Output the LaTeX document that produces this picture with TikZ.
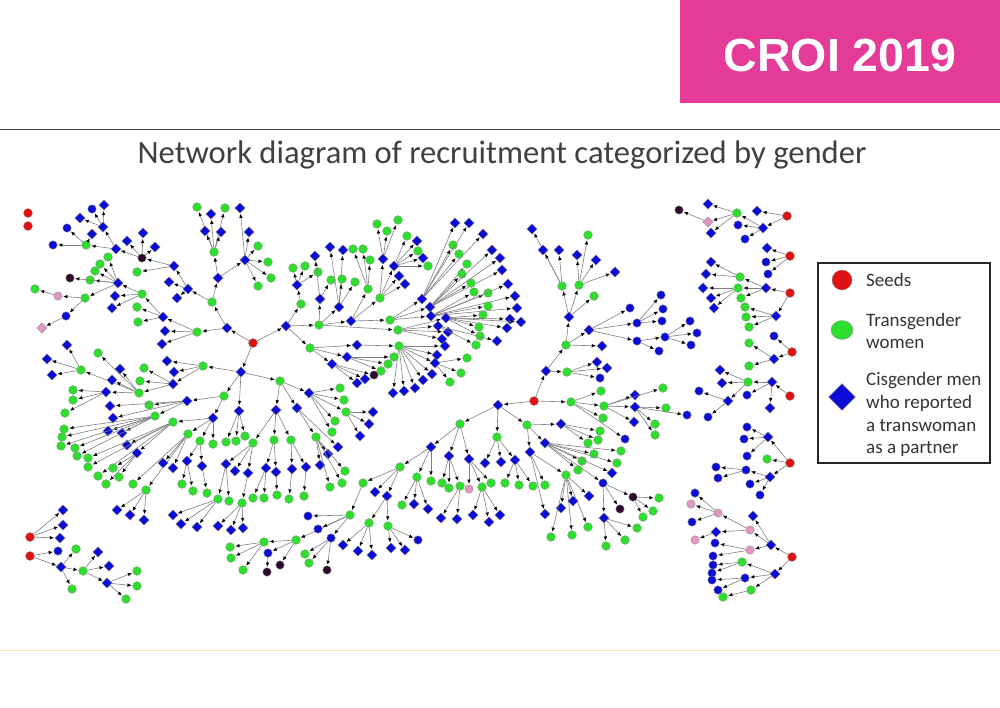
\documentclass[tikz,border=0pt]{standalone}
\usepackage{fontspec}
\usetikzlibrary{shapes.geometric,arrows.meta}
\newfontfamily\titlefont{Carlito}
\newfontfamily\headfont{Liberation Sans}
\definecolor{cgreen}{RGB}{45,222,45}
\definecolor{cblue}{RGB}{12,12,215}
\definecolor{cred}{RGB}{222,18,18}
\definecolor{cpink}{RGB}{226,150,192}
\definecolor{cdark}{RGB}{45,10,45}
\definecolor{croi}{RGB}{228,58,152}
\tikzset{
 nd/.style={inner sep=0pt, draw=black!45, line width=0.3pt},
 gn/.style={nd, circle, fill=cgreen, minimum size=8.8pt},
 bd/.style={nd, diamond, fill=cblue, minimum size=10.5pt},
 bc/.style={nd, circle, fill=cblue, minimum size=8.5pt},
 rd/.style={nd, circle, fill=cred, minimum size=9pt},
 pk/.style={nd, circle, fill=cpink, minimum size=8.5pt},
 pd/.style={nd, diamond, fill=cpink, minimum size=10.5pt},
 dk/.style={nd, circle, fill=cdark, minimum size=8.5pt},
 edge/.style={draw=black!50, line width=0.6pt, -{Latex[length=4.2pt,width=3.6pt,color=black]}, shorten >=0.8pt},
 legtext/.style={font=\titlefont\fontsize{19}{22}\selectfont, text=black!80, anchor=base west, inner sep=0pt},
}
\newcount\vc
\newcommand\mknode[5]{\node[#4] (#1) at (#2,#3) {}; \draw[edge] (#5) -- (#1);}
\newcommand\kids[2]{\foreach \nm/\px/\py/\st in {#2}{\edef\tmp{\noexpand\mknode{\nm}{\px}{\py}{\st}{#1}}\tmp}}
\newcommand\leaves[2]{\foreach \px/\py/\st in {#2}{\global\advance\vc by 1 \edef\tmp{\noexpand\mknode{v\the\vc}{\px}{\py}{\st}{#1}}\tmp}}
\begin{document}
\begin{tikzpicture}[x=1pt,y=-1pt]
\useasboundingbox (0,0) rectangle (1000,707);
\fill[white] (0,0) rectangle (1000,707);
% header
\fill[croi] (680,0) rectangle (1000,103);
\node[text=white, font=\headfont\bfseries\fontsize{46.5}{50}\selectfont, inner sep=0pt] (hdr) at (840,55) {CROI 2019};
\draw[black!75, line width=0.8pt] (0,129) -- (1000,129);
\draw[color={rgb,255:red,250;green,228;blue,175}, line width=0.8pt] (0,650) -- (1000,650);
\node[font=\titlefont\fontsize{32.6}{34}\selectfont, text=black!75, inner sep=0pt] (ttl) at (502,155) {Network diagram of recruitment categorized by gender};
% legend
\draw[line width=1.2pt, black!85] (818,263) rectangle (990,463);
\node[rd, minimum size=20pt] (k1) at (842,280) {};
\node[gn, minimum width=22pt, minimum height=19pt, ellipse] (k2) at (842,330) {};
\node[bd, minimum size=27pt] (k3) at (842,397) {};
\node[legtext] (lg1) at (866,286) {Seeds};
\node[legtext] (lg2) at (866,326) {Transgender};
\node[legtext] (lg3) at (866,348) {women};
\node[legtext] (lg4) at (866,385) {Cisgender men};
\node[legtext] (lg5) at (866,408) {who reported};
\node[legtext] (lg6) at (866,431) {a transwoman};
\node[legtext] (lg7) at (866,453) {as a partner};
% isolated seeds
\node[rd] (S1) at (28,213) {};
\node[rd] (S2) at (28,226) {};
% ===== Tree A =====
\node[rd] (A) at (253,343) {};
\kids{A}{a1/227/328/bd, a2/286/326/bd, a3/241/372/bd}
\kids{a1}{a11/212/302/gn, a12/197/332/gn}
\kids{a11}{h1/188/289/bd, t1/218/278/bd}
\kids{h1}{L1/174/266/bd}
\leaves{h1}{169/282/bd, 177/298/bd}
\kids{a12}{L2/163/317/bd}
\leaves{a12}{165/331/bd, 162/344/bd}
\kids{L1}{L3/142/258/dk}
\leaves{L1}{137/272/gn}
\kids{L3}{L4/116/249/bd}
\leaves{L3}{127/241/bd, 143/233/bd, 155/247/bd}
\kids{L4}{L5/86/245/gn, L6/103/227/bd}
\leaves{L5}{53/245/bc, 67/228/bc, 92/234/bd}
\leaves{L6}{80/218/bd, 92/209/bc, 104/205/bd}
\kids{L2}{L7/142/294/gn}
\leaves{L2}{137/307/gn, 138/322/gn}
\kids{L7}{L8/118/283/bd}
\leaves{L7}{115/296/bd, 112/308/bd}
\kids{L8}{L9/85/298/gn}
\leaves{L8}{108/257/gn, 100/264/gn, 95/271/gn, 90/280/gn, 70/278/dk}
\kids{L9}{L10/58/296/pk, L11/66/316/bc}
\leaves{L10}{35/289/gn}
\leaves{L11}{42/328/pd}
\kids{t1}{t2/214/252/gn, t3/245/260/bd}
\leaves{t2}{197/207/gn, 211/214/bd, 225/208/gn, 205/231/bd, 221/232/bd}
\leaves{t3}{240/208/bd, 249/232/bd, 258/246/gn, 268/262/gn, 271/278/gn, 258/286/gn}
% a2
\kids{a2}{u1/301/304/gn, u2/319/325/gn, u3/310/348/gn}
\kids{u1}{u11/297/285/bd}
\leaves{u11}{293/268/gn, 305/266/gn, 318/272/gn}
\kids{u2}{u21/320/299/bd, u22/339/307/bd, u23/351/321/bd, h398/398/330/gn}
\leaves{u21}{315/256/bd, 331/280/gn}
\leaves{u22}{330/247/bd, 343/250/bd, 342/279/gn, 355/282/gn}
\kids{u23}{u231/368/289/gn, u232/380/298/gn, h390/390/320/gn}
\leaves{u231}{353/249/gn, 363/249/gn, 370/260/gn}
\kids{u232}{u2321/383/259/bd, u2322/394/266/bd}
\leaves{u232}{399/276/bd, 405/284/bd}
\leaves{u2321}{377/224/gn, 387/231/gn, 398/220/gn}
\leaves{u2322}{407/236/gn, 417/241/bd, 418/251/gn, 423/258/bd, 428/266/gn}
\kids{h390}{w1/422/299/bd, w2/430/307/bd, w3/431/316/bd}
\leaves{w1}{453/245/gn, 455/223/bd, 469/223/bd, 483/234/bd, 459/254/gn}
\leaves{w2}{467/264/gn, 462/274/gn, 492/250/bd, 500/258/bd, 502/270/bd, 471/283/gn}
\leaves{w3}{474/292/gn, 488/293/gn, 508/284/bd, 515/296/bd, 517/308/bd, 488/306/gn}
\kids{h398}{w4/446/318/bd, w5/438/326/bd}
\leaves{h398}{448/332/bd, 442/339/bd}
\leaves{w4}{483/315/gn, 510/319/bd, 521/322/bd, 507/328/bd, 479/327/gn, 480/336/gn}
\leaves{w5}{476/345/gn, 497/341/bd}
\kids{u3}{u31/357/345/bd, u32/347/357/bd, u33/332/364/bd}
\leaves{u33}{357/383/bd, 365/379/bd, 374/375/dk}
\leaves{u32}{381/371/gn, 388/364/gn, 394/357/gn}
\kids{u31}{h399/399/346/gn}
\kids{h399}{w6/435/363/bd}
\leaves{h399}{445/346/bd, 437/355/bd, 432/374/bd, 423/380/bd, 415/388/bd, 404/391/bd, 393/393/bd}
\leaves{w6}{467/358/gn, 461/373/gn, 450/382/gn}
% a3
\kids{a3}{d1/203/366/gn, d2/224/396/gn, d3/239/411/bd, d4/280/381/gn}
\kids{d1}{d11/173/384/bd}
\leaves{d1}{167/361/bd, 174/372/bd}
\kids{d11}{d111/139/393/gn}
\leaves{d11}{144/368/gn, 140/381/gn}
\kids{d111}{d1111/106/392/bd, d1112/81/370/gn}
\leaves{d111}{120/369/bd, 112/380/bd, 98/353/gn}
\leaves{d1112}{47/359/bd, 52/375/bd, 67/345/bd}
\leaves{d1111}{73/390/gn, 73/400/gn, 65/413/gn}
\kids{d2}{d21/187/401/bd, d22/213/418/bd}
\kids{d21}{d211/155/416/gn}
\leaves{d21}{149/405/gn, 110/406/bd, 113/418/bd}
\leaves{d211}{108/431/bd, 122/433/bd, 64/429/gn, 62/437/gn, 61/446/gn, 75/448/gn, 77/456/gn}
\kids{d22}{d221/173/422/gn, d222/188/434/gn, d223/200/441/gn}
\leaves{d22}{213/444/gn}
\kids{d221}{d2211/137/453/bd}
\leaves{d221}{127/445/bd, 88/458/gn, 88/467/gn, 98/476/gn}
\leaves{d2211}{113/468/gn, 119/477/gn, 106/484/gn}
\kids{d222}{d2221/146/490/gn}
\leaves{d222}{163/463/bd, 173/468/bd, 133/484/gn}
\leaves{d2221}{117/510/bd, 130/515/bd, 144/520/bd}
\kids{d223}{d2231/187/461/bd, d2232/202/466/bd}
\leaves{d2231}{182/484/gn, 193/491/gn}
\leaves{d2232}{207/493/gn}
\leaves{d3}{226/442/gn, 236/441/gn, 245/436/gn}
\kids{d4}{d41/309/393/bd, d42/276/410/bd, d43/297/408/bd}
\kids{d41}{d411/346/412/gn}
\leaves{d41}{340/388/gn, 344/400/gn, 335/421/gn, 332/432/gn}
\leaves{d411}{373/412/bd, 369/424/bd, 360/436/bd}
\kids{d42}{d31/253/443/gn, d421/274/440/gn, d422/291/440/gn}
\kids{d31}{d311/226/464/bd, d312/248/473/bd}
\leaves{d31}{235/471/bd}
\kids{d311}{d3111/218/499/gn}
\leaves{d311}{229/501/gn}
\kids{d312}{d3121/242/503/gn}
\leaves{d3111}{173/515/bd, 181/524/bd, 197/527/bd}
\leaves{d3121}{218/526/bd, 231/530/bd, 243/528/bd}
\kids{d421}{d4211/266/468/bd, d4212/276/472/bd}
\leaves{d4211}{253/498/gn, 264/498/gn}
\leaves{d4212}{277/495/gn}
\kids{d422}{d4221/292/469/bd, d4222/306/467/bd}
\leaves{d4221}{289/499/gn}
\leaves{d4222}{304/496/gn}
\kids{d43}{d431/316/437/gn}
\leaves{d43}{338/447/bd}
\leaves{d431}{328/454/bd, 320/465/bd, 345/471/gn, 342/483/gn, 330/487/gn}
% ===== Tree B =====
\node[rd] (B) at (534,401) {};
\kids{B}{e1/498/405/bd, e2/571/402/gn, e3/546/371/bd}
\kids{e3}{e31/567/372/gn, e32/566/345/gn}
\leaves{e31}{597/362/bd, 607/368/bd, 600/378/bc}
\kids{e32}{e321/569/317/bd, e322/589/330/bd}
\leaves{e32}{602/346/bd}
\kids{e321}{e3211/562/286/gn, e3212/579/285/gn}
\leaves{e321}{594/296/gn}
\leaves{e3211}{532/229/bd, 543/250/bd, 559/250/bd}
\leaves{e3212}{577/255/bd, 596/260/bd, 615/272/bd, 588/235/gn}
\kids{e322}{e3221/637/323/bc, e3222/637/341/bc}
\leaves{e322}{630/308/bc}
\leaves{e3221}{661/295/bc, 663/309/bc, 662/321/bc}
\kids{e3222}{e32221/665/337/bc}
\leaves{e3222}{659/351/bc}
\leaves{e32221}{690/321/bc, 697/333/bc, 691/345/bc}
\kids{e2}{e21/604/406/gn}
\leaves{e2}{601/391/gn, 603/418/gn, 625/439/bc}
\kids{e21}{e211/635/407/bd}
\leaves{e21}{635/395/bd, 634/422/bd, 663/388/gn}
\leaves{e211}{666/408/gn, 687/415/bc, 655/424/gn, 655/435/gn}
\kids{e1}{e11/460/424/gn, e12/497/437/gn, e13/527/425/gn}
\kids{e13}{e131/561/424/bd, e132/545/443/bd, e133/530/452/bd}
\leaves{e131}{600/431/gn, 598/440/gn, 588/443/gn}
\kids{e132}{e1321/603/483/bc}
\leaves{e132}{594/454/gn, 621/451/gn, 617/463/gn, 582/461/gn, 612/473/bd, 578/470/gn}
\kids{e1321}{e13211/633/497/dk, e13212/604/518/bd}
\leaves{e1321}{620/509/dk}
\leaves{e13211}{659/498/gn, 653/511/gn, 643/517/gn}
\leaves{e13212}{606/546/gn, 625/540/gn, 637/528/gn}
\kids{e133}{e1331/566/475/gn}
\leaves{e133}{545/485/gn, 545/514/bd}
\leaves{e1331}{561/508/bd, 551/537/gn, 572/535/gn, 588/527/gn, 573/501/bd, 589/496/bd}
\kids{e12}{e121/515/460/bd}
\leaves{e12}{485/463/bd, 501/462/bd}
\leaves{e121}{505/483/gn, 519/485/gn, 533/486/gn}
\kids{e11}{e111/431/447/bd, e112/449/456/bd, e113/469/459/bd}
\kids{e111}{e1111/417/477/gn, e1113/400/467/gn}
\leaves{e111}{431/481/gn}
\leaves{e1111}{402/505/gn, 414/504/bd, 428/509/bd}
\kids{e112}{e1121/460/486/gn}
\leaves{e112}{442/483/gn, 449/488/gn}
\leaves{e1121}{441/518/bd, 457/519/bd}
\kids{e113}{e1131/482/487/gn}
\leaves{e113}{469/489/pk, 491/483/gn}
\leaves{e1131}{473/515/bd, 489/522/bd, 500/515/bd}
\kids{e1113}{ch1/363/483/gn, ch3/387/496/bd}
\leaves{e1113}{375/492/bd}
\kids{ch1}{ch2/350/515/gn}
\kids{ch3}{ch31/369/523/gn, ch32/388/526/gn}
\leaves{ch31}{343/545/bd, 358/551/bd, 372/555/bd}
\leaves{ch32}{391/548/bd, 405/550/bd, 418/540/bc}
\kids{ch2}{ch21/331/538/bc, ch22/296/540/gn}
\leaves{ch2}{308/516/bc, 318/529/bc}
\leaves{ch21}{327/570/dk, 309/563/gn, 305/554/gn}
\kids{ch22}{ch221/264/542/gn, ch222/268/553/bc}
\leaves{ch22}{280/565/dk}
\leaves{ch221}{230/547/gn, 231/558/gn, 243/570/gn}
\leaves{ch222}{267/572/dk}
% ===== right-hand small trees =====
\node[rd] (R1) at (787,216) {};
\kids{R1}{r12/763/228/bd}
\leaves{R1}{757/211/bd}
\kids{r12}{r121/737/213/gn}
\leaves{r12}{738/225/bc, 745/239/bc}
\kids{r121}{r1211/708/222/pd}
\leaves{r121}{708/204/bd, 711/233/bd}
\leaves{r1211}{679/210/dk}
\node[rd] (R2) at (790,256) {};
\leaves{R2}{767/248/bd, 766/262/bc, 768/274/bc}
\node[rd] (R3) at (790,293) {};
\kids{R3}{r31/766/288/bd, r32/776/316/bd}
\kids{r31}{r311/740/277/gn, r312/738/288/gn}
\leaves{r31}{741/298/gn}
\leaves{r311}{711/262/bd, 706/274/bd}
\leaves{r312}{703/288/bd, 711/298/bd, 714/308/bd}
\leaves{r32}{745/307/gn, 746/317/gn, 749/327/gn}
\node[rd] (R4) at (792,352) {};
\kids{R4}{r41/774/359/bd}
\leaves{R4}{774/336/bc}
\leaves{r41}{749/343/gn, 749/366/gn}
\node[rd] (R5) at (790,396) {};
\kids{R5}{r51/772/382/bd}
\kids{r51}{r511/748/382/gn}
\leaves{r51}{747/395/bc, 770/408/bd}
\kids{r511}{r5111/728/401/bd}
\leaves{r511}{720/370/bd, 722/383/bd}
\leaves{r5111}{699/391/bc, 708/417/bc}
\node[rd] (R6) at (790,463) {};
\kids{R6}{r61/768/437/bd, r62/770/477/bd}
\leaves{R6}{767/459/gn}
\leaves{r61}{747/427/bc, 744/439/bc, 747/456/bc}
\kids{r62}{r621/746/470/bc}
\leaves{r62}{750/484/bc, 760/495/bc}
\leaves{r621}{716/467/bc, 718/478/bc}
\node[rd] (R7) at (792,557) {};
\kids{R7}{r71/771/545/bd, r72/775/574/bd}
\kids{r71}{r711/750/530/pk, r712/750/550/pk}
\leaves{r71}{753/516/bd}
\kids{r711}{r7111/718/513/pk, r7112/716/532/bd}
\leaves{r7111}{695/493/bc, 691/504/pk, 692/522/bc}
\leaves{r7112}{695/540/pk}
\leaves{r712}{715/543/bc, 713/556/bc}
\kids{r72}{r721/742/562/gn, r722/745/578/bc, r723/751/590/gn}
\leaves{r721}{713/565/bc, 712/573/bc}
\leaves{r722}{712/580/bc, 718/590/bc}
\leaves{r723}{723/597/gn}
% ===== bottom-left small trees =====
\node[rd] (BL1) at (30,537) {};
\node[rd] (BL2) at (30,556) {};
\leaves{BL1}{63/510/bd, 63/525/bd, 60/538/bd}
\kids{BL2}{x2/61/567/bd}
\leaves{BL2}{58/551/bc}
\kids{x2}{x3/83/571/gn}
\leaves{x2}{76/549/gn, 72/589/gn}
\kids{x3}{x4/107/583/bd}
\leaves{x3}{98/552/bd, 109/566/bd}
\leaves{x4}{137/571/gn, 137/586/gn, 126/599/gn}
\end{tikzpicture}
\end{document}
